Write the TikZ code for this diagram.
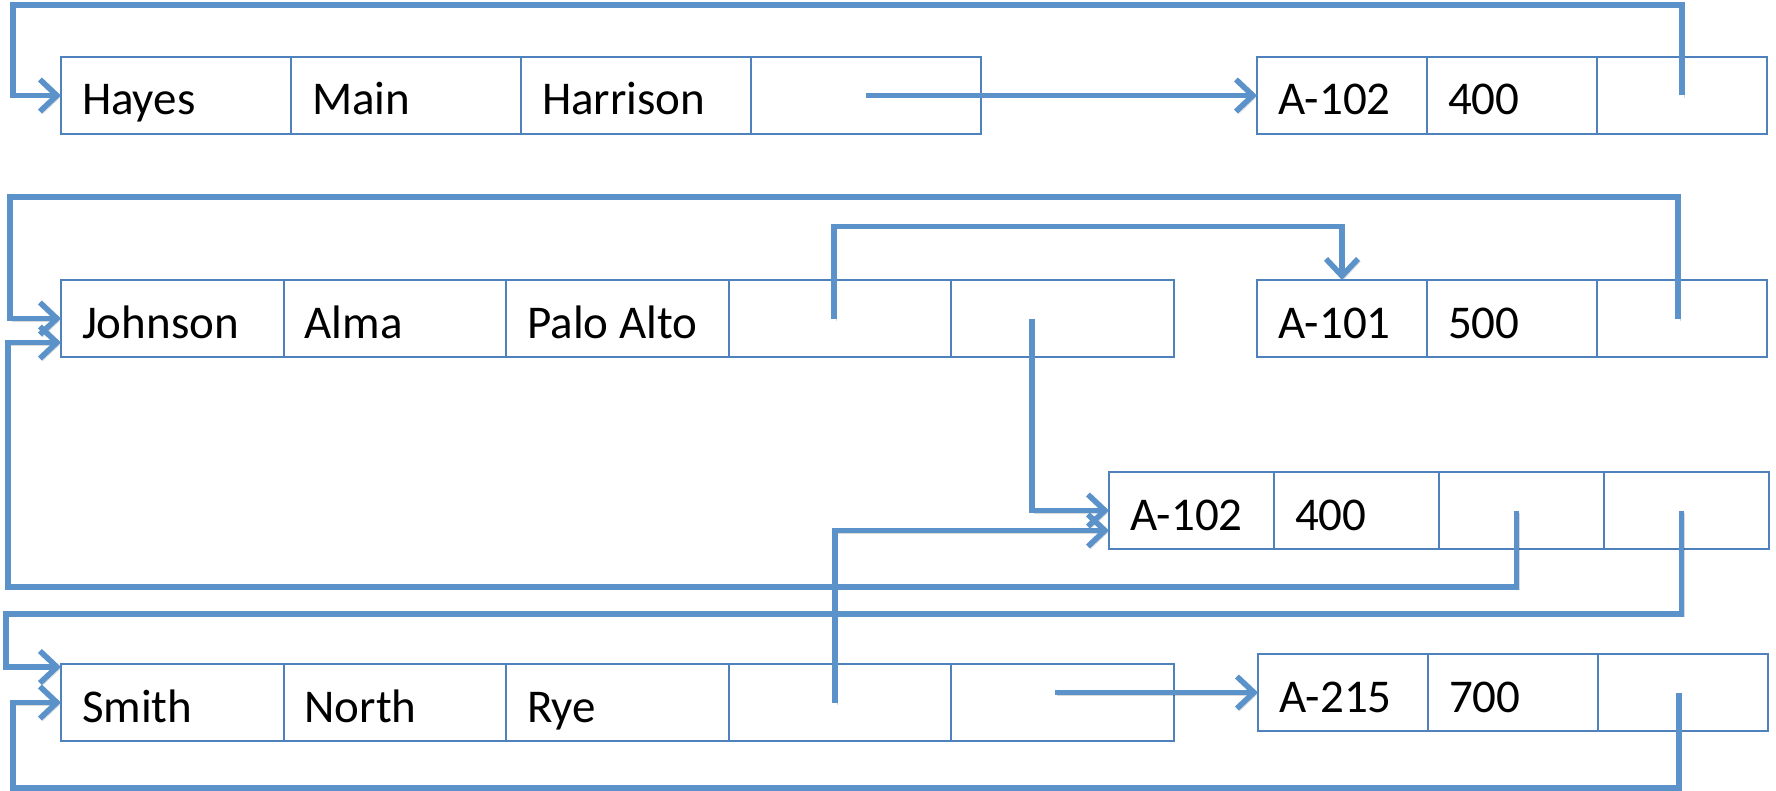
\documentclass[tikz,border=0pt]{standalone}
\usepackage{fontspec}
\setmainfont{Carlito}
\usetikzlibrary{arrows.meta,calc}
\definecolor{linec}{RGB}{92,146,202}
\definecolor{boxc}{RGB}{79,129,189}
\begin{document}
\begin{tikzpicture}[x=0.5pt,y=-0.5pt,
  cell/.style={draw=boxc, line width=1pt, outer sep=0pt, inner xsep=10.5pt, inner ysep=0pt,
    minimum height=38.5pt, text width=#1, align=left, text height=20pt, text depth=0.5pt,
    font=\fontsize{23.5pt}{26pt}\selectfont},
  conn/.style={draw=linec, line width=2.8pt, -{Straight Barb[length=8.5pt,width=16pt]},
    preaction={draw=black, opacity=0.15, transform canvas={shift={(1.2pt,-1.2pt)}}}}]
\useasboundingbox (0,0) rectangle (1776,791);

% record Hayes
\node[cell=94pt, anchor=north west] (h1) at (61,57) {Hayes};
\node[cell=94pt, anchor=west] (h2) at (h1.east) {Main};
\node[cell=94pt, anchor=west] (h3) at (h2.east) {Harrison};
\node[cell=94pt, anchor=west] (h4) at (h3.east) {};
% record A-102 top
\node[cell=64pt, anchor=north west] (a1) at (1257,57) {A-102};
\node[cell=64pt, anchor=west] (a2) at (a1.east) {400};
\node[cell=64pt, anchor=west] (a3) at (a2.east) {};
% record Johnson
\node[cell=90.3pt, anchor=north west] (j1) at (61,280) {Johnson};
\node[cell=90.3pt, anchor=west] (j2) at (j1.east) {Alma};
\node[cell=90.3pt, anchor=west] (j3) at (j2.east) {Palo\hspace{0.23em}Alto};
\node[cell=90.3pt, anchor=west] (j4) at (j3.east) {};
\node[cell=90.3pt, anchor=west] (j5) at (j4.east) {};
% record A-101
\node[cell=64pt, anchor=north west] (b1) at (1257,280) {A-101};
\node[cell=64pt, anchor=west] (b2) at (b1.east) {500};
\node[cell=64pt, anchor=west] (b3) at (b2.east) {};
% record A-102 middle
\node[cell=61.5pt, anchor=north west] (c1) at (1109,472) {A-102};
\node[cell=61.5pt, anchor=west] (c2) at (c1.east) {400};
\node[cell=61.5pt, anchor=west] (c3) at (c2.east) {};
\node[cell=61.5pt, anchor=west] (c4) at (c3.east) {};
% record Smith
\node[cell=90.3pt, anchor=north west] (s1) at (61,664) {Smith};
\node[cell=90.3pt, anchor=west] (s2) at (s1.east) {North};
\node[cell=90.3pt, anchor=west] (s3) at (s2.east) {Rye};
\node[cell=90.3pt, anchor=west] (s4) at (s3.east) {};
\node[cell=90.3pt, anchor=west] (s5) at (s4.east) {};
% record A-215
\node[cell=64pt, anchor=north west] (d1) at (1258,654) {A-215};
\node[cell=64pt, anchor=west] (d2) at (d1.east) {700};
\node[cell=64pt, anchor=west] (d3) at (d2.east) {};

% connectors
\draw[conn] (a3.center) |- (13,5) |- (h1.west);
\draw[conn] (h4.center) -- (a1.west);
\draw[conn] ($(b3.center)+(-4,0)$) |- (10,197) |- (j1.west);
\draw[conn] ($(j4.center)+(-6,0)$) -- ++(0,-92) -| (b1.north);
\coordinate (j5p) at ($(j5.center)+(-31,0)$);
\draw[conn] (j5p) |- (c1.west);
\draw[conn] ($(c3.center)+(-5,0)$) |- (8,587) |- ($(j1.west)+(0,24)$);
\draw[conn] ($(c4.center)+(-5,0)$) |- (6,614) |- ($(s1.north west)+(0,3)$);
\draw[conn] ($(s4.center)+(-5,0)$) |- ($(c1.west)+(0,20)$);
\coordinate (s5p) at ($(s5.center)+(-8,0)$);
\draw[conn] (s5p |- d1.west) -- (d1.west);
\draw[conn] ($(d3.center)+(-4,0)$) |- (13,788) |- (s1.west);
\end{tikzpicture}
\end{document}
